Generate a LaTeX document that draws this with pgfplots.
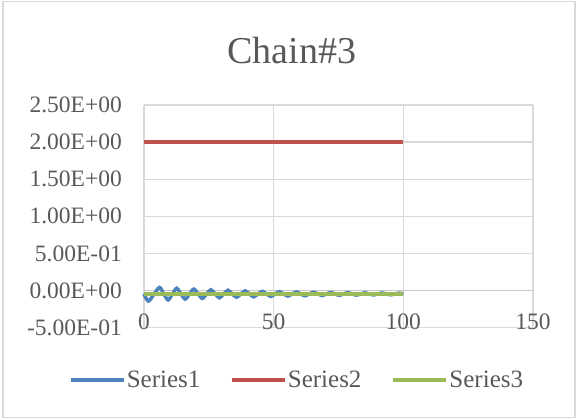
\documentclass[border=0pt]{standalone}
\usepackage{fontspec}
\setmainfont{Liberation Serif}
\usepackage{pgfplots}
\pgfplotsset{compat=1.18}

\definecolor{txtgray}{HTML}{595959}
\definecolor{gridgray}{HTML}{D9D9D9}
\definecolor{zerogray}{HTML}{C8C8C8}
\definecolor{sblue}{HTML}{4F81BD}
\definecolor{sred}{HTML}{C0504D}
\definecolor{sgreen}{HTML}{9BBB59}

\begin{document}
\begin{tikzpicture}[x=1pt,y=1pt]
\useasboundingbox (0,0) rectangle (578,419);
% chart frame
\draw[gridgray, line width=1.3pt] (3,1.3) rectangle (575,417.7);
% title
\node[anchor=base, text=txtgray, font=\fontsize{38}{40}\selectfont, inner sep=0pt]
  at (291.7,355.7) {Chain\#3};

\begin{axis}[
  at={(144pt,91.3pt)}, anchor=south west,
  scale only axis, width=389pt, height=222.7pt,
  xmin=0, xmax=150, ymin=-0.5, ymax=2.5,
  axis line style={draw=none},
  major tick length=0pt,
  xtick={0,50,100,150},
  xticklabels={0,50,100,150},
  ytick={-0.5,0,0.5,1,1.5,2,2.5},
  yticklabels={-5.00E-01,0.00E+00,5.00E-01,1.00E+00,1.50E+00,2.00E+00,2.50E+00},
  xmajorgrids, ymajorgrids,
  grid style={gridgray, line width=1.4pt},
  xticklabel style={anchor=north, inner sep=0pt, yshift=14pt,
    text=txtgray, font=\fontsize{23.5}{25}\selectfont},
  yticklabel style={anchor=east, inner sep=0pt, xshift=-22pt,
    text=txtgray, font=\fontsize{23.5}{25}\selectfont},
  legend columns=3,
  legend style={draw=none, fill=none, at={(0.3925,-0.2348)}, anchor=center,
    font=\fontsize{25}{27}\selectfont, text=txtgray,
    nodes={inner sep=1.5pt},
    /tikz/every even column/.append style={column sep=28pt}},
  legend image code/.code={\draw[#1] (0pt,0pt) -- (53pt,0pt);},
  clip=false,
]
% horizontal axis line at zero
\draw[zerogray, line width=1.5pt] (axis cs:0,0) -- (axis cs:150,0);

% Series1: decaying oscillation
\addplot[sblue, line width=3.5pt, smooth] coordinates {
(0,-0.045) (1.7,-0.141) (3.9,-0.045) (6.0,0.0425) (7.65,-0.045)
(9.3,-0.126) (10.95,-0.045) (12.6,0.031) (14.25,-0.045) (15.9,-0.115)
(17.55,-0.045) (19.2,0.020) (20.85,-0.045) (22.5,-0.106) (24.15,-0.045)
(25.8,0.011) (27.45,-0.045) (29.1,-0.097) (30.75,-0.045) (32.4,0.004)
(34.05,-0.045) (35.7,-0.090) (37.35,-0.045) (39.0,-0.003) (40.65,-0.045)
(42.3,-0.084) (43.95,-0.045) (45.6,-0.009) (47.25,-0.045) (48.9,-0.079)
(50.55,-0.045) (52.2,-0.014) (53.85,-0.045) (55.5,-0.074) (57.15,-0.045)
(58.8,-0.018) (60.45,-0.045) (62.1,-0.070) (63.75,-0.045) (65.4,-0.022)
(67.05,-0.045) (68.7,-0.067) (70.35,-0.045) (72.0,-0.025) (73.65,-0.045)
(75.3,-0.064) (76.95,-0.045) (78.6,-0.028) (80.25,-0.045) (81.9,-0.061)
(83.55,-0.045) (85.2,-0.030) (86.85,-0.045) (88.5,-0.059) (90.15,-0.045)
(91.8,-0.032) (93.45,-0.045) (95.1,-0.057) (96.75,-0.045) (98.4,-0.034)
(100,-0.045)
};
\addlegendentry{Series1}

% Series2: constant
\addplot[sred, line width=3.5pt] coordinates {(0,2) (25,2) (50,2) (75,2) (100,2)};
\addlegendentry{Series2}

% Series3: constant near zero
\addplot[sgreen, line width=4pt] coordinates {(0,-0.045) (25,-0.045) (50,-0.045) (75,-0.045) (100,-0.045)};
\addlegendentry{Series3}
\end{axis}
\end{tikzpicture}
\end{document}
